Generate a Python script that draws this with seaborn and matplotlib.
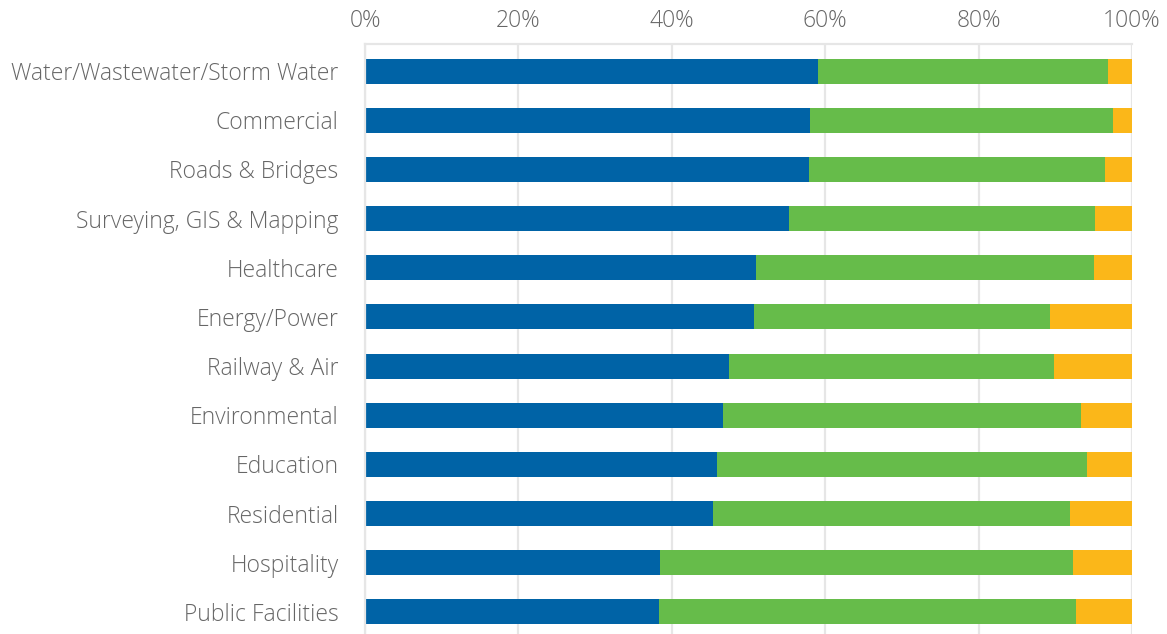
import pandas as pd
import numpy as np
import matplotlib
matplotlib.use("Agg")
import matplotlib.pyplot as plt
import seaborn as sns

BLUE   = "#0063a6"
GREEN  = "#66bc4a"
YELLOW = "#fbb719"
GRID   = "#e6e6e6"
TEXT   = "#666666"

categories = [
    "Water/Wastewater/Storm Water", "Commercial", "Roads & Bridges",
    "Surveying, GIS & Mapping", "Healthcare", "Energy/Power", "Railway & Air",
    "Environmental", "Education", "Residential", "Hospitality", "Public Facilities",
]
blue_vals   = [59.1, 58.0, 57.9, 55.3, 51.0, 50.7, 47.5, 46.7, 45.9, 45.4, 38.5, 38.3]
green_vals  = [37.8, 39.5, 38.6, 39.9, 44.0, 38.6, 42.3, 46.7, 48.2, 46.5, 53.8, 54.4]
yellow_vals = [3.1, 2.5, 3.5, 4.8, 5.0, 10.7, 10.2, 6.6, 5.9, 8.1, 7.7, 7.3]

df = pd.DataFrame({"cat": categories, "a": blue_vals, "b": green_vals, "c": yellow_vals})
df["ab"] = df["a"] + df["b"]
df["abc"] = df["ab"] + df["c"]

sns.set_theme(style="white")
plt.rcParams["font.family"] = ["Open Sans", "DejaVu Sans"]
plt.rcParams["font.weight"] = "light"

fig = plt.figure(figsize=(11.67, 6.34), dpi=100)
ax = fig.add_axes([0.3128, 0.0, 0.6572, 0.9306])

for col, color in [("abc", YELLOW), ("ab", GREEN), ("a", BLUE)]:
    sns.barplot(data=df, x=col, y="cat", color=color, width=0.51,
                saturation=1, linewidth=0, ax=ax, orient="h")

ax.set_xlim(0, 100)
ax.set_ylim(11.45, -0.55)
ax.set_xticks([0, 20, 40, 60, 80, 100])
ax.set_xticklabels(["0%", "20%", "40%", "60%", "80%", "100%"])
ax.xaxis.tick_top()
ax.set_xlabel("")
ax.set_ylabel("")
ax.grid(axis="x", color=GRID, linewidth=1.6, zorder=0)
ax.set_axisbelow(True)
for s in ["right", "bottom"]:
    ax.spines[s].set_visible(False)
for s in ["top", "left"]:
    ax.spines[s].set_color(GRID)
    ax.spines[s].set_linewidth(1.6)
ax.tick_params(axis="x", length=0, pad=8, labelsize=16.5, labelcolor=TEXT)
ax.tick_params(axis="y", length=0, pad=19, labelsize=16.5, labelcolor=TEXT)

fig.savefig("out.png", dpi=100)
